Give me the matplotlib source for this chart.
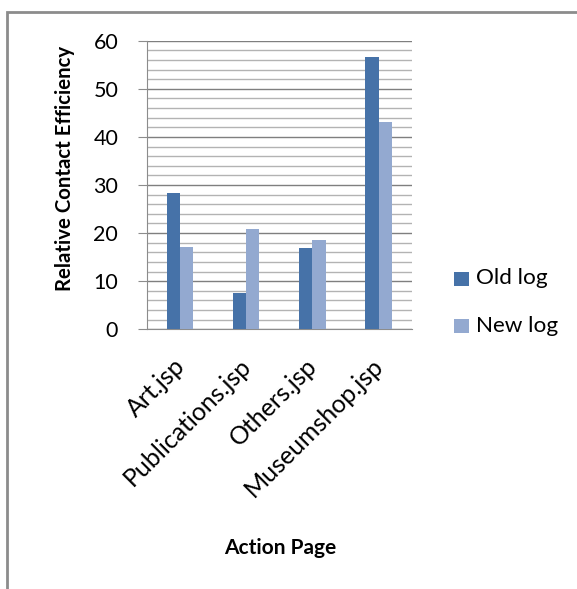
import matplotlib
matplotlib.use("Agg")
import matplotlib.pyplot as plt
import matplotlib.transforms as mtransforms
import numpy as np
from matplotlib.patches import Rectangle

categories = ["Art.jsp", "Publications.jsp", "Others.jsp", "Museumshop.jsp"]
old_log = [28.3, 7.5, 16.9, 56.6]
new_log = [17.2, 20.9, 18.6, 43.2]
series_names = ["Old log", "New log"]
colors = ["#4672A8", "#93A9D0"]

plt.rcParams['font.family'] = ['Lato', 'DejaVu Sans']

W, H = 577, 589
fig = plt.figure(figsize=(W/100, H/100), dpi=100)

# outer frame
fig.patches.append(Rectangle((7/W, -0.05), 1.2, (H-12)/H + 0.05, transform=fig.transFigure,
                             fill=False, edgecolor="#8c8c8c", linewidth=2))

x0, x1 = 146.7, 411.7
y0, y1 = 329.3, 40.7
ax = fig.add_axes([x0/W, 1 - y0/H, (x1-x0)/W, (y0-y1)/H])

x = np.arange(len(categories))
bw = 0.2
ax.bar(x - bw/2, old_log, bw, color=colors[0], label=series_names[0], zorder=3)
ax.bar(x + bw/2, new_log, bw, color=colors[1], label=series_names[1], zorder=3)

ax.set_xlim(-0.5, len(categories) - 0.5)
ax.set_ylim(0, 60)
ax.set_yticks(np.arange(0, 61, 10))
ax.set_yticks(np.arange(0, 61, 2), minor=True)
ax.grid(axis='y', which='minor', color="#b3b3b3", linewidth=1.0, zorder=0)
ax.grid(axis='y', which='major', color="#7f7f7f", linewidth=1.0, zorder=1)
ax.tick_params(axis='y', which='major', length=6.5, color="#8c8c8c", labelsize=15.5, pad=14)
ax.tick_params(axis='y', which='minor', length=0)
ax.tick_params(axis='x', length=0, pad=18)
ax.set_xticks(x)
ax.set_xticklabels(categories, rotation=45, ha='right', rotation_mode='anchor', fontsize=18)
offset = mtransforms.ScaledTranslation(-7/100, 0, fig.dpi_scale_trans)
for lab in ax.get_xticklabels():
    lab.set_transform(lab.get_transform() + offset)
for s in ['top', 'right']:
    ax.spines[s].set_visible(False)
ax.spines['left'].set_color("#8c8c8c")
ax.spines['bottom'].set_color("#8c8c8c")

fig.text(65/W, 1 - 168/H, "Relative Contact Efficiency", rotation=90, ha='center', va='center',
         fontsize=14.7, fontweight='bold')
fig.text(280/W, 1 - 548/H, "Action Page", ha='center', va='center', fontsize=15, fontweight='bold')

# legend
lx = 454
for i, (name, yc) in enumerate(zip(series_names, [278.5, 326])):
    fig.patches.append(Rectangle((lx/W, 1 - (yc+7)/H), 15/W, 14/H, transform=fig.transFigure,
                                 facecolor=colors[i], edgecolor='none'))
    fig.text(476/W, 1 - yc/H, name, ha='left', va='center', fontsize=16.2)

fig.savefig("out.png", dpi=100)
